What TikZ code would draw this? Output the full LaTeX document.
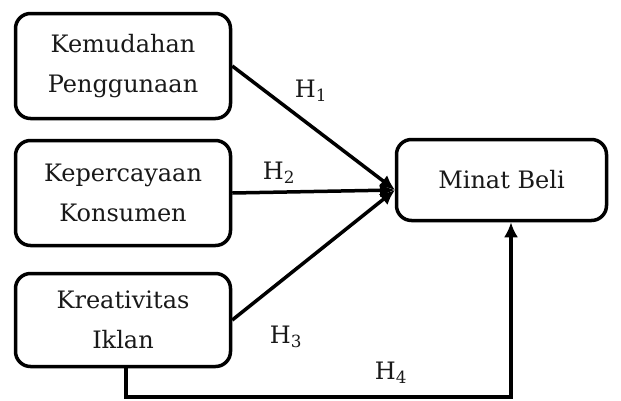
\documentclass[tikz,border=0pt]{standalone}
\usepackage{fontspec}
\setmainfont{DejaVu Serif}
\usetikzlibrary{arrows.meta}
\begin{document}
\begin{tikzpicture}[x=1pt,y=-1pt,
  box/.style={draw=black,line width=3.5pt,rounded corners=15pt,inner sep=0pt,align=center,font=\fontsize{24}{40}\selectfont,text=black!90},
  conn/.style={line width=3.5pt,-{Latex[length=15pt,width=14pt]}},
  hlab/.style={font=\fontsize{24}{28}\selectfont,text=black!90}]
\useasboundingbox (0,0) rectangle (621,400);
\node[box,minimum width=215pt,minimum height=105pt] (a) at (123,66) {Kemudahan\\Penggunaan};
\node[box,minimum width=215pt,minimum height=105pt] (b) at (123,193) {Kepercayaan\\Konsumen};
\node[box,minimum width=215pt,minimum height=93pt] (c) at (123,320) {Kreativitas\\Iklan};
\node[box,minimum width=210pt,minimum height=81pt] (d) at (501.5,180) {Minat Beli};
\coordinate (t) at (395,190);
\draw[conn] (a.east) -- (t);
\draw[conn] (b.east) -- (t);
\draw[conn] (c.east) -- (t);
\draw[conn] (c.south -| 126,0) |- (511,397) -- (d.south -| 511,0);
\node[hlab] (h1) at (311,91) {H\textsubscript{1}};
\node[hlab] (h2) at (279,173) {H\textsubscript{2}};
\node[hlab] (h3) at (286,337) {H\textsubscript{3}};
\node[hlab] (h4) at (391,373) {H\textsubscript{4}};
\end{tikzpicture}
\end{document}
